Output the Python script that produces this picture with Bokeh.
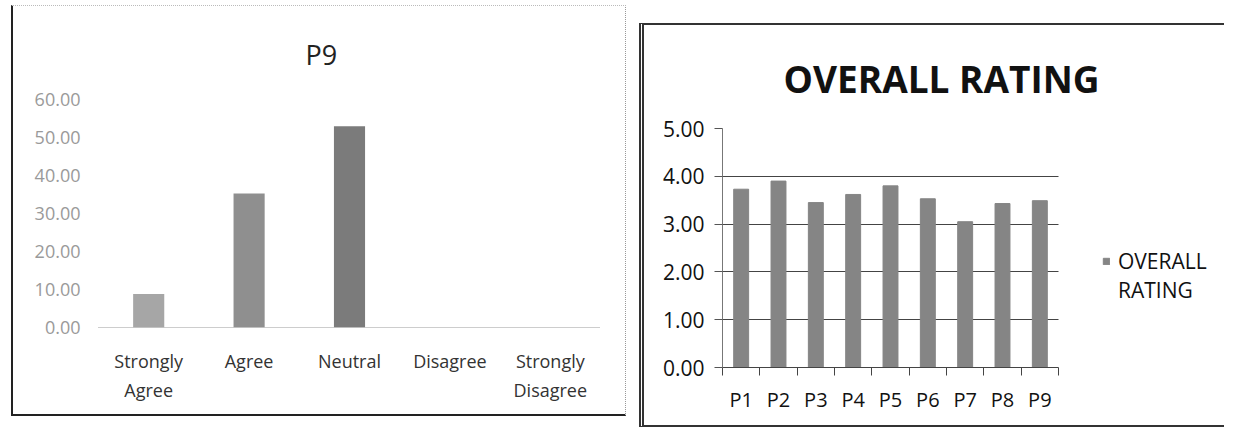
from bokeh.plotting import figure
from bokeh.layouts import row, column
from bokeh.models import (Range1d, FixedTicker, NumeralTickFormatter, BoxAnnotation,
                          Legend, LegendItem, ColumnDataSource, Spacer, LinearAxis)
from bokeh.embed import file_html
from bokeh.resources import INLINE

FONT = "Open Sans"

# ---------------- data ----------------
p9_categories = ["Strongly Agree", "Agree", "Neutral", "Disagree", "Strongly Disagree"]
p9_values = [8.82, 35.29, 52.94, 0.0, 0.0]
p9_colors = ["#a6a6a6", "#8f8f8f", "#7b7b7b", "#7b7b7b", "#7b7b7b"]
p9_label_line1 = ["Strongly", "Agree", "Neutral", "Disagree", "Strongly"]
p9_label_line2 = ["Agree", "", "", "", "Disagree"]
p9_y_ticks = [0, 10, 20, 30, 40, 50, 60]

overall_categories = ["P1", "P2", "P3", "P4", "P5", "P6", "P7", "P8", "P9"]
overall_values = [3.73, 3.90, 3.45, 3.62, 3.80, 3.53, 3.05, 3.43, 3.49]
overall_y_ticks = [0, 1, 2, 3, 4, 5]
overall_legend_lines = ["OVERALL", "RATING"]

# ---------------- left chart: P9 ----------------
n1 = len(p9_categories)
xs1 = [i + 0.5 for i in range(n1)]
src1 = ColumnDataSource(dict(x=xs1, val=p9_values, color=p9_colors))
p1 = figure(width=615, height=411, x_range=Range1d(0, n1),
            y_range=Range1d(0, 60), output_backend="svg", toolbar_location=None,
            min_border_left=85, min_border_right=28, min_border_top=93,
            min_border_bottom=90, title="P9")
p1.vbar(x="x", top="val", width=0.31, fill_color="color", line_color=None, source=src1)
p1.xgrid.grid_line_color = None
p1.ygrid.grid_line_color = None
p1.outline_line_color = None
p1.title.text_font = FONT
p1.title.text_font_style = "normal"
p1.title.text_font_size = "27px"
p1.title.text_color = "#222222"
p1.title.align = "left"
p1.title.offset = 207
p1.title.standoff = 53

ya = p1.yaxis[0]
ya.ticker = FixedTicker(ticks=p9_y_ticks)
ya.formatter = NumeralTickFormatter(format="0.00")
ya.axis_line_color = None
ya.major_tick_line_color = None
ya.minor_tick_line_color = None
ya.major_tick_out = 0
ya.major_label_standoff = 18
ya.major_label_text_font = FONT
ya.major_label_text_font_size = "18px"
ya.major_label_text_color = "#9a9a9a"

xa = p1.xaxis[0]
xa.ticker = FixedTicker(ticks=xs1)
xa.major_label_overrides = {x: s for x, s in zip(xs1, p9_label_line1)}
xa.axis_line_color = "#9a9a9a"
xa.axis_line_dash = "1 1"
xa.major_tick_line_color = None
xa.minor_tick_line_color = None
xa.major_tick_out = 0
xa.major_label_standoff = 21
xa.major_label_text_font = FONT
xa.major_label_text_font_size = "18px"
xa.major_label_text_color = "#333333"

xa_second = LinearAxis(ticker=FixedTicker(ticks=xs1),
                       major_label_overrides={x: s for x, s in zip(xs1, p9_label_line2)},
                       axis_line_color=None, major_tick_line_color=None,
                       minor_tick_line_color=None, major_tick_out=0,
                       major_label_standoff=2, major_label_text_font=FONT,
                       major_label_text_font_size="18px", major_label_text_color="#333333")
p1.add_layout(xa_second, "below")
p1.styles = {"border-left": "2px solid #222", "border-bottom": "2px solid #222",
             "border-right": "1px dotted #999", "border-top": "1px dotted #bbb"}

# ---------------- right chart: OVERALL RATING ----------------
n2 = len(overall_categories)
xs2 = [i + 0.5 for i in range(n2)]
W2, L2 = 585, 78
bar_area_px = 336
x_end = n2 * (W2 - L2) / bar_area_px
src2 = ColumnDataSource(dict(x=xs2, val=overall_values))
p2 = figure(width=W2, height=404, x_range=Range1d(0, x_end),
            y_range=Range1d(0, 5), output_backend="svg", toolbar_location=None,
            min_border_left=L2, min_border_right=0, min_border_top=103,
            min_border_bottom=62, title="OVERALL RATING")
grid = p2.ygrid[0]
grid.ticker = FixedTicker(ticks=overall_y_ticks)
grid.grid_line_color = "#444444"
if "cross_bounds" in grid.properties():
    grid.cross_bounds = (0, n2)
else:
    p2.add_layout(BoxAnnotation(left=n2, fill_color="white", fill_alpha=1,
                                line_color=None, level="underlay"))
bars = p2.vbar(x="x", top="val", width=0.4, color="#858585", source=src2)
blank = p2.vbar(x=[], top=[], width=0.4, fill_alpha=0, line_alpha=0)
p2.xgrid.grid_line_color = None
p2.outline_line_color = None
p2.title.text_font = FONT
p2.title.text_font_style = "bold"
p2.title.text_font_size = "37px"
p2.title.text_color = "#111111"
p2.title.align = "left"
p2.title.offset = 61
p2.title.standoff = 50

ya2 = p2.yaxis[0]
ya2.ticker = FixedTicker(ticks=overall_y_ticks)
ya2.formatter = NumeralTickFormatter(format="0.00")
ya2.axis_line_color = "#777777"
ya2.major_tick_line_color = "#555555"
ya2.major_tick_out = 8
ya2.major_tick_in = 0
ya2.minor_tick_line_color = None
ya2.major_label_standoff = 10
ya2.major_label_text_font = FONT
ya2.major_label_text_font_size = "21px"
ya2.major_label_text_color = "#111111"

xa2 = p2.xaxis[0]
xa2.bounds = (0, n2)
xa2.ticker = FixedTicker(ticks=xs2, minor_ticks=list(range(n2 + 1)))
xa2.major_label_overrides = {x: c for x, c in zip(xs2, overall_categories)}
xa2.axis_line_color = "#444444"
xa2.major_tick_line_color = None
xa2.major_tick_out = 8
xa2.minor_tick_line_color = "#444444"
xa2.minor_tick_out = 8
xa2.minor_tick_in = 0
xa2.major_label_standoff = 10
xa2.major_label_text_font = FONT
xa2.major_label_text_font_size = "20px"
xa2.major_label_text_color = "#111111"

legend = Legend(items=[LegendItem(label=overall_legend_lines[0], renderers=[bars]),
                       LegendItem(label=overall_legend_lines[1], renderers=[blank])],
                location=(380, 63), glyph_width=8, glyph_height=8, label_standoff=8,
                padding=0, margin=0, spacing=1, border_line_color=None,
                background_fill_alpha=0, label_text_font=FONT,
                label_text_font_size="21px", label_text_color="#111111")
p2.add_layout(legend)
p2.styles = {"border-left": "5px double #333", "border-top": "2px solid #333",
             "border-bottom": "2px solid #333"}

layout = row(Spacer(width=11), column(Spacer(height=5), p1), Spacer(width=13),
             column(Spacer(height=23), p2))
open("out.html", "w").write(file_html(layout, INLINE))
